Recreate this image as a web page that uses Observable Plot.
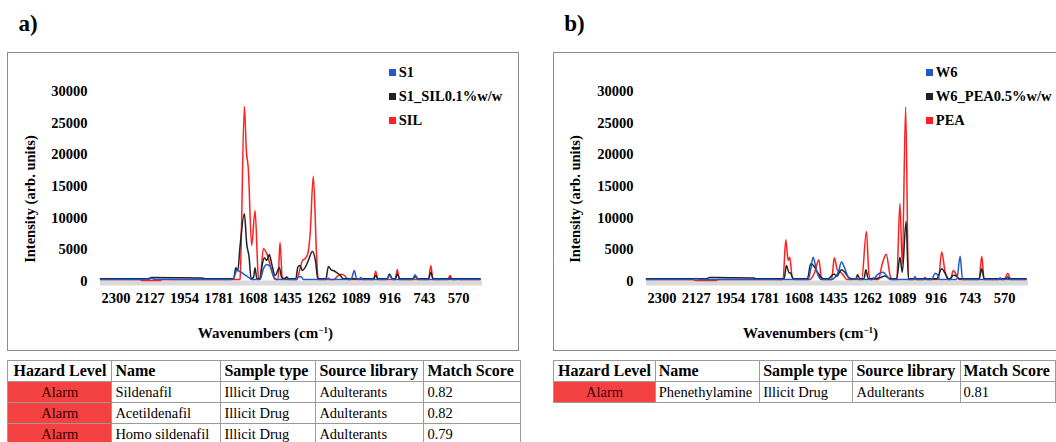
<!DOCTYPE html>
<html><head><meta charset="utf-8">
<script src="https://cdn.jsdelivr.net/npm/d3@7"></script>
<script src="https://cdn.jsdelivr.net/npm/@observablehq/plot@0.6"></script>
<style>
body{margin:0;background:#fff;width:1056px;height:442px;overflow:hidden;position:relative;font-family:"Liberation Serif","Times New Roman",serif;color:#000}
.frame{position:absolute;top:52px;width:512px;height:299px;border:1.5px solid #8c8c8c;box-sizing:border-box}
.chart{position:absolute;top:52px}
.plabel{position:absolute;top:11px;font-size:23px;font-weight:bold;line-height:normal}
.ytitle{position:absolute;font-size:14.5px;font-weight:bold;white-space:nowrap;transform:translate(-50%,-50%) rotate(-90deg);line-height:1}
.xtitle{position:absolute;font-size:15px;font-weight:bold;white-space:nowrap;transform:translate(-50%,-50%);line-height:1}
.xtitle sup{font-size:0.6em;vertical-align:0.5em;line-height:0}
.legend{position:absolute;top:60.7px;font-size:14.5px;font-weight:bold}
.legend .row{display:flex;align-items:center;height:24px;white-space:nowrap}
.legend .sw{width:7px;height:7px;margin-right:3px}
table{position:absolute;top:359.5px;border-collapse:collapse;font-size:14.5px;table-layout:fixed}
td,th{border:1.5px solid #9a9a9a;height:20px;padding:0 3px;text-align:left;white-space:nowrap;overflow:hidden;line-height:20px}
th{font-size:16px;font-weight:bold}
th.c{text-align:center}
td.alarm{background:#f44242;text-align:center;color:#3a0000}
</style></head>
<body>
<div id="root"></div>
<script>
// ---------- data ----------
const xTicks = [2300, 2127, 1954, 1781, 1608, 1435, 1262, 1089, 916, 743, 570];
const yTicks = [0, 5000, 10000, 15000, 20000, 25000, 30000];
const xDomain = [2378, 450];

// panel a: [wavenumber, intensity]
const S1 = [[2378,330],[2200,330],[2135,360],[2120,520],[2105,360],[2000,330],[1720,330],[1708,380],
  [1702,800],[1690,1740],[1674,1580],[1657,1200],[1632,700],[1615,330],
  [1573,330],[1556,2000],[1539,2680],[1522,2370],[1506,900],[1488,330],
  [1388,330],[1379,700],[1366,800],[1354,330],
  [1240,330],[1228,500],[1218,330],
  [1115,330],[1108,700],[1097,1740],[1085,400],[1072,330],[1064,650],[1057,330],
  [935,330],[920,950],[905,330],
  [805,330],[790,1060],[775,330],[462,330]];
const S1_SIL = [[2378,450],[2140,450],[2120,620],[2000,600],[1870,560],[1850,450],[1712,450],
  [1706,500],[1695,2160],[1685,1740],[1674,5420],[1652,10690],[1640,5950],[1628,3840],[1618,450],
  [1606,600],[1598,2160],[1589,450],[1573,450],[1564,2260],[1551,3740],[1539,3320],[1526,4260],[1514,2790],[1497,950],
  [1475,2160],[1463,600],[1450,450],[1438,700],[1428,450],
  [1392,450],[1382,2260],[1371,2530],[1359,1740],[1346,2160],[1329,3320],[1309,4740],[1292,3050],[1282,500],[1270,450],
  [1240,450],[1228,2370],[1214,1850],[1203,1740],[1189,1470],[1169,1000],[1152,450],
  [1000,450],[989,950],[978,450],[930,450],[920,1200],[905,450],[890,450],[880,1200],[868,450],
  [800,450],[790,800],[778,450],[722,450],[711,1470],[700,450],[622,450],[614,550],[604,450],[462,450]];
const SIL = [[2378,330],[2180,330],[2165,150],[2080,150],[2065,330],[1676,330],
  [1674,400],[1652,27630],[1642,20700],[1632,17800],[1615,5690],[1598,11210],[1581,700],[1573,330],
  [1556,5160],[1539,4400],[1514,1740],[1497,330],[1482,330],[1472,6200],[1460,330],[1438,600],[1428,330],
  [1388,330],[1371,2000],[1359,3300],[1346,3600],[1332,4370],[1320,7500],[1304,16630],[1287,3840],[1279,330],
  [1200,330],[1180,900],[1162,1150],[1145,900],[1130,330],
  [1000,330],[989,1630],[978,330],[890,330],[880,1900],[870,330],
  [722,330],[711,2530],[700,330],[625,330],[614,950],[603,330],[580,330],[573,420],[565,330],[462,330]];

// panel b
const W6 = [[2378,330],[2140,330],[2128,500],[2115,330],[1562,330],
  [1549,2000],[1537,3840],[1520,1740],[1508,700],[1495,330],
  [1444,330],[1410,1470],[1394,3060],[1380,2300],[1363,900],[1347,330],[1318,500],[1305,330],
  [1236,330],[1208,1200],[1183,1470],[1166,900],[1149,330],
  [1030,330],[1023,800],[1016,330],[938,330],[922,1320],[908,1000],[900,330],
  [812,330],[795,4000],[783,330],[600,330],[593,600],[586,330],[462,330]];
const W6_PEA = [[2378,450],[2075,450],[2060,620],[1960,600],[1840,560],[1825,450],[1690,450],
  [1683,500],[1672,2530],[1660,1470],[1650,1300],[1638,450],
  [1566,450],[1549,2790],[1532,2370],[1515,1470],[1495,600],[1485,450],
  [1461,450],[1431,1200],[1419,800],[1394,1850],[1377,1470],[1357,600],[1343,450],
  [1320,450],[1313,1050],[1301,450],[1280,450],[1271,1850],[1259,450],
  [1233,450],[1200,600],[1175,850],[1149,450],
  [1115,450],[1099,3840],[1087,1470],[1068,9500],[1056,450],
  [1030,450],[1023,600],[1016,450],
  [913,450],[888,2000],[871,1300],[854,450],[845,450],[829,1000],[812,800],[800,450],
  [699,450],[686,2000],[674,450],[562,450],[555,700],[548,450],[462,450]];
const PEA = [[2378,330],[2145,330],[2131,150],[2030,150],[2015,330],[1689,330],
  [1675,6600],[1663,3320],[1655,3840],[1643,700],[1633,330],
  [1554,330],[1529,1470],[1508,3430],[1495,500],[1488,330],
  [1444,330],[1430,3740],[1414,1740],[1402,1580],[1385,1000],[1368,330],
  [1292,330],[1268,7900],[1255,1000],[1245,330],[1239,330],[1233,600],[1226,330],
  [1208,330],[1188,2800],[1168,4300],[1149,1000],[1141,330],
  [1115,330],[1099,12300],[1087,2790],[1070,27520],[1056,330],
  [980,330],[972,650],[964,330],
  [905,330],[888,4640],[871,1500],[854,330],[845,330],[829,1740],[812,900],[800,330],
  [699,330],[686,4000],[674,330],[572,330],[555,1320],[540,330],[462,330]];

const BLUE = "#1f5bc6", BLACK = "#222222", RED = "#ff1f1f";

const panels = [
  {left: 7.4, label: "a)", labelX: 18.6, legendX: 388.7,
   series: [{name:"S1", data:S1, color:BLUE},{name:"S1_SIL0.1%w/w", data:S1_SIL, color:BLACK},{name:"SIL", data:SIL, color:RED}]},
  {left: 552.5, label: "b)", labelX: 564.3, legendX: 925.8,
   series: [{name:"W6", data:W6, color:BLUE},{name:"W6_PEA0.5%w/w", data:W6_PEA, color:BLACK},{name:"PEA", data:PEA, color:RED}]}
];

// tables
const tableHeader = ["Hazard Level", "Name", "Sample type", "Source library", "Match Score"];
const tableA = [["Alarm","Sildenafil","Illicit Drug","Adulterants","0.82"],
                ["Alarm","Acetildenafil","Illicit Drug","Adulterants","0.82"],
                ["Alarm","Homo sildenafil","Illicit Drug","Adulterants","0.79"]];
const tableB = [["Alarm","Phenethylamine","Illicit Drug","Adulterants","0.81"]];
const colsA = [104, 109, 95, 108, 97];
const colsB = [102.5, 107.5, 95, 108, 97];

// ---------- drawing ----------
const root = document.getElementById("root");
function el(tag, cls, style, html) {
  const e = document.createElement(tag);
  if (cls) e.className = cls;
  if (style) Object.assign(e.style, style);
  if (html != null) e.innerHTML = html;
  return e;
}

for (const p of panels) {
  root.appendChild(el("div", "frame", {left: p.left + "px"}));
  const order = [p.series[2], p.series[1], p.series[0]];
  const chart = Plot.plot({
    width: 512, height: 299,
    marginLeft: 93, marginRight: 37, marginTop: 39, marginBottom: 70,
    x: {domain: xDomain, axis: null},
    y: {domain: [0, 30000], axis: null},
    style: {fontFamily: "'Liberation Serif', 'Times New Roman', serif", fontSize: "14.5px", fontWeight: "bold", background: "transparent", overflow: "visible", color: "#000"},
    marks: [
      Plot.ruleY([0], {stroke: "#d9d9d9", strokeWidth: 5, dy: 1.5}),
      Plot.axisY({ticks: yTicks, tickSize: 0, tickPadding: 13, tickFormat: d => String(d), label: null, fontSize: 14.5, fontWeight: "bold"}),
      Plot.axisX({ticks: xTicks, tickSize: 0, tickPadding: 11, tickFormat: d => String(d), label: null, fontSize: 14.5, fontWeight: "bold"}),
      ...order.map(s => Plot.line(s.data, {x: d => d[0], y: d => d[1], stroke: s.color, strokeWidth: 1.5, curve: "monotone-x", strokeLinejoin: "round"}))
    ]
  });
  chart.classList.add("chart");
  chart.style.position = "absolute";
  chart.style.left = p.left + "px";
  chart.style.top = "52px";
  chart.style.maxWidth = "none";
  root.appendChild(chart);

  root.appendChild(el("div", "plabel", {left: p.labelX + "px"}, p.label));
  root.appendChild(el("div", "ytitle", {left: (p.left + 22.5) + "px", top: "199px"}, "Intensity (arb. units)"));
  root.appendChild(el("div", "xtitle", {left: (p.left + 258) + "px", top: "333px"}, "Wavenumbers (cm<sup>−1</sup>)"));
  const lg = el("div", "legend", {left: p.legendX + "px"});
  for (const s of p.series) {
    const row = el("div", "row");
    row.appendChild(el("div", "sw", {background: s.color}));
    row.appendChild(el("span", null, null, s.name));
    lg.appendChild(row);
  }
  root.appendChild(lg);
}

function makeTable(left, cols, rows) {
  const t = document.createElement("table");
  t.style.left = left + "px";
  const cg = document.createElement("colgroup");
  cols.forEach(w => { const c = document.createElement("col"); c.style.width = w + "px"; cg.appendChild(c); });
  t.appendChild(cg);
  const hr = document.createElement("tr");
  tableHeader.forEach((h, i) => { const th = el("th", i === 0 ? "c" : null, null, h); hr.appendChild(th); });
  t.appendChild(hr);
  rows.forEach(r => {
    const tr = document.createElement("tr");
    r.forEach((v, i) => { tr.appendChild(el("td", i === 0 ? "alarm" : null, null, v)); });
    t.appendChild(tr);
  });
  root.appendChild(t);
}
makeTable(7.4, colsA, tableA);
makeTable(553.3, colsB, tableB);
</script>
</body></html>
